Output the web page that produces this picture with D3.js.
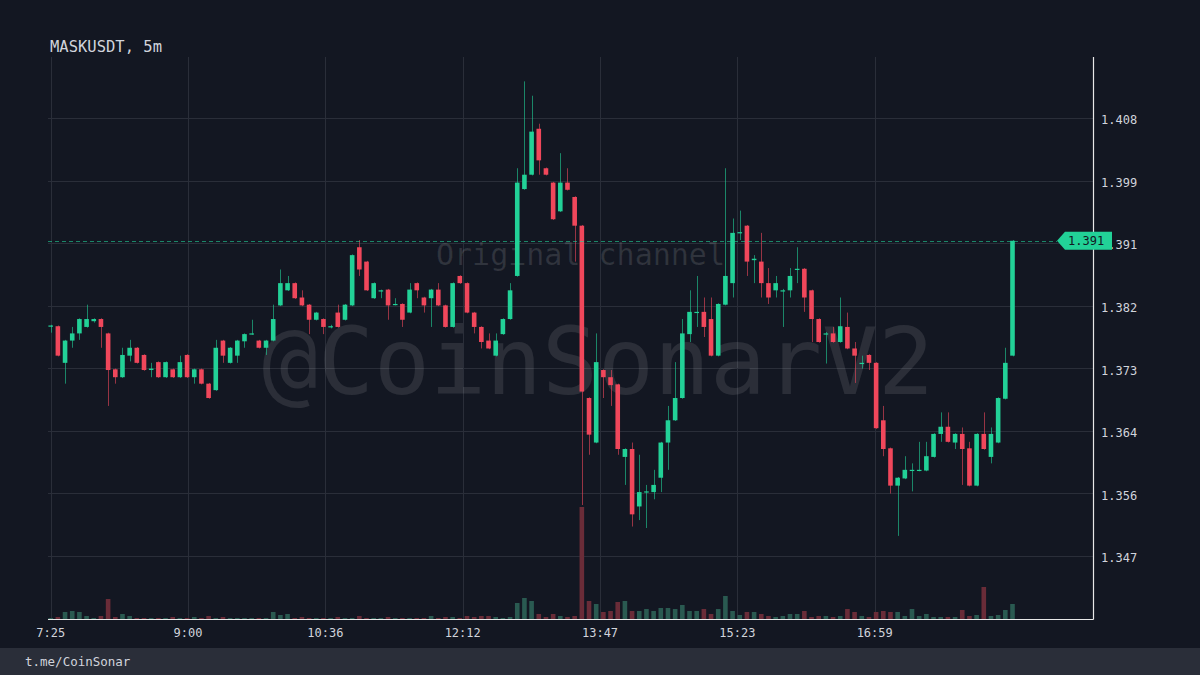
<!DOCTYPE html>
<html><head><meta charset="utf-8">
<script src="https://cdn.jsdelivr.net/npm/d3@7"></script>
<style>html,body{margin:0;padding:0;background:#131722;} svg{display:block}</style>
</head><body>
<svg id="chart" width="1200" height="675"></svg>
<script>
const chartTitle = "MASKUSDT, 5m";
const footerText = "t.me/CoinSonar";
const watermarkBig = "@CoinSonarV2";
const watermarkSmall = "Original channel";
const startTime = "2021-01-01T07:25:00";
const intervalMinutes = 5;

const opens = [1.3790,1.3790,1.3739,1.3770,1.3780,1.3789,1.3797,1.3800,1.3780,1.3730,1.3719,1.3749,1.3760,1.3750,1.3729,1.3740,1.3719,1.3730,1.3719,1.3750,1.3719,1.3730,1.3710,1.3701,1.3770,1.3739,1.3749,1.3769,1.3779,1.3770,1.3760,1.3770,1.3819,1.3840,1.3850,1.3830,1.3820,1.3799,1.3800,1.3789,1.3809,1.3799,1.3819,1.3900,1.3880,1.3829,1.3839,1.3841,1.3820,1.3821,1.3809,1.3850,1.3830,1.3829,1.3841,1.3819,1.3789,1.3860,1.3850,1.3809,1.3789,1.3770,1.3749,1.3779,1.3800,1.3860,1.3981,1.4001,1.4065,1.4010,1.3990,1.3950,1.3990,1.3970,1.3930,1.3690,1.3628,1.3729,1.3719,1.3709,1.3608,1.3619,1.3539,1.3559,1.3559,1.3579,1.3628,1.3659,1.3690,1.3779,1.3809,1.3810,1.3800,1.3749,1.3820,1.3850,1.3920,1.3930,1.3882,1.3880,1.3850,1.3840,1.3839,1.3840,1.3869,1.3870,1.3840,1.3800,1.3779,1.3780,1.3768,1.3789,1.3759,1.3738,1.3750,1.3739,1.3659,1.3620,1.3568,1.3578,1.3589,1.3589,1.3589,1.3608,1.3640,1.3650,1.3628,1.3640,1.3620,1.3568,1.3640,1.3608,1.3628,1.3689,1.3749];
const highs = [1.3792,1.3791,1.3771,1.3789,1.3801,1.3820,1.3801,1.3801,1.3781,1.3731,1.3760,1.3771,1.3761,1.3751,1.3739,1.3741,1.3741,1.3731,1.3749,1.3751,1.3731,1.3731,1.3711,1.3771,1.3771,1.3761,1.3771,1.3780,1.3799,1.3771,1.3771,1.3820,1.3869,1.3860,1.3851,1.3840,1.3821,1.3810,1.3801,1.3792,1.3820,1.3821,1.3890,1.3910,1.3881,1.3851,1.3841,1.3842,1.3829,1.3822,1.3850,1.3851,1.3831,1.3842,1.3850,1.3820,1.3851,1.3861,1.3851,1.3810,1.3790,1.3780,1.3780,1.3801,1.3850,1.4010,1.4131,1.4111,1.4072,1.4011,1.3991,1.4031,1.4010,1.3971,1.3931,1.3691,1.3780,1.3730,1.3729,1.3710,1.3620,1.3628,1.3611,1.3569,1.3590,1.3629,1.3679,1.3740,1.3800,1.3840,1.3860,1.3830,1.3830,1.3822,1.4010,1.3940,1.3951,1.3931,1.3889,1.3920,1.3871,1.3860,1.3842,1.3871,1.3900,1.3871,1.3841,1.3801,1.3782,1.3789,1.3830,1.3809,1.3768,1.3749,1.3751,1.3740,1.3679,1.3621,1.3580,1.3609,1.3599,1.3629,1.3629,1.3641,1.3670,1.3670,1.3641,1.3649,1.3629,1.3641,1.3670,1.3649,1.3691,1.3760,1.3910];
const lows = [1.3781,1.3748,1.3710,1.3760,1.3771,1.3788,1.3795,1.3760,1.3679,1.3710,1.3718,1.3741,1.3738,1.3728,1.3719,1.3718,1.3718,1.3718,1.3718,1.3718,1.3710,1.3709,1.3689,1.3700,1.3739,1.3738,1.3739,1.3760,1.3778,1.3759,1.3750,1.3769,1.3818,1.3839,1.3828,1.3818,1.3779,1.3798,1.3779,1.3787,1.3788,1.3798,1.3818,1.3860,1.3839,1.3828,1.3829,1.3799,1.3819,1.3789,1.3808,1.3829,1.3809,1.3789,1.3818,1.3788,1.3788,1.3849,1.3808,1.3780,1.3759,1.3758,1.3748,1.3778,1.3799,1.3859,1.3980,1.4000,1.4001,1.4000,1.3938,1.3949,1.3979,1.3880,1.3541,1.3611,1.3627,1.3690,1.3679,1.3611,1.3569,1.3511,1.3520,1.3509,1.3549,1.3559,1.3590,1.3658,1.3689,1.3768,1.3789,1.3775,1.3748,1.3748,1.3819,1.3830,1.3910,1.3860,1.3850,1.3830,1.3821,1.3830,1.3789,1.3830,1.3850,1.3810,1.3768,1.3767,1.3738,1.3767,1.3767,1.3758,1.3711,1.3731,1.3729,1.3647,1.3609,1.3557,1.3498,1.3577,1.3560,1.3588,1.3588,1.3607,1.3629,1.3628,1.3619,1.3569,1.3567,1.3567,1.3618,1.3599,1.3627,1.3688,1.3748];
const closes = [1.3791,1.3749,1.3770,1.3780,1.3800,1.3800,1.3800,1.3789,1.3729,1.3719,1.3750,1.3760,1.3739,1.3729,1.3731,1.3719,1.3740,1.3719,1.3740,1.3719,1.3730,1.3710,1.3690,1.3760,1.3749,1.3760,1.3770,1.3779,1.3780,1.3760,1.3770,1.3800,1.3850,1.3850,1.3829,1.3819,1.3799,1.3809,1.3789,1.3790,1.3789,1.3820,1.3889,1.3869,1.3840,1.3850,1.3840,1.3819,1.3821,1.3799,1.3841,1.3840,1.3819,1.3841,1.3819,1.3789,1.3850,1.3850,1.3809,1.3789,1.3768,1.3759,1.3770,1.3800,1.3840,1.3990,1.4001,1.4061,1.4021,1.4001,1.3939,1.3990,1.3980,1.3930,1.3699,1.3639,1.3740,1.3719,1.3708,1.3619,1.3619,1.3528,1.3559,1.3560,1.3569,1.3628,1.3659,1.3690,1.3780,1.3810,1.3810,1.3789,1.3749,1.3821,1.3860,1.3920,1.3921,1.3880,1.3884,1.3850,1.3830,1.3850,1.3840,1.3860,1.3870,1.3830,1.3800,1.3768,1.3780,1.3768,1.3790,1.3759,1.3749,1.3739,1.3739,1.3648,1.3619,1.3568,1.3579,1.3590,1.3590,1.3590,1.3609,1.3640,1.3650,1.3629,1.3640,1.3619,1.3568,1.3640,1.3619,1.3640,1.3690,1.3739,1.3909];
const volumes = [1,2,7,8,7,3,1,3,20,2,5,3,1,1,1,1,1,2,1,1,2,1,3,1,2,1,1,1,1,1,1,7,4,5,1,2,1,1,1,1,2,1,1,3,1,1,1,2,1,1,1,1,1,3,1,2,2,1,3,2,3,3,2,1,2,16,21,18,5,2,5,3,2,3,112,18,15,7,8,17,18,8,8,10,8,11,11,10,14,8,8,10,5,10,23,8,4,7,7,5,3,2,3,5,5,8,2,3,3,2,3,10,7,3,2,7,8,7,7,3,10,3,5,2,2,2,2,9,3,4,32,3,4,9,15];

const priceTicks = [1.3470,1.35571,1.36442,1.37313,1.38184,1.39055,1.39926,1.40797];
const timeTicks = ["2021-01-01T07:25:00","2021-01-01T09:00:40","2021-01-01T10:36:20","2021-01-01T12:12:00","2021-01-01T13:47:40","2021-01-01T15:23:20","2021-01-01T16:59:00"];

const W = 1200, H = 675;
const plot = {left: 48, right: 1093, top: 57, bottom: 619};
const colors = {bg:"#131722", footer:"#2a2e39", grid:"#2a2e39", text:"#d1d4dc", up:"#22d197", down:"#f0475b", upVol:"#2a5a51", downVol:"#6a2c38", border:"#e8e8e8", wm:"#ffffff"};
const mono = "'DejaVu Sans Mono', 'Liberation Mono', monospace";

const t0 = new Date(startTime);
const data = opens.map((o,i)=>({
  t: new Date(t0.getTime() + i*intervalMinutes*60000),
  o, h: highs[i], l: lows[i], c: closes[i], v: volumes[i]
}));
const lastT = data[data.length-1].t;

const x = d3.scaleTime().domain([t0, lastT]).range([50.7, 1012.5]);
const y = d3.scaleLinear().domain([priceTicks[0], priceTicks[priceTicks.length-1]]).range([556, 118.2]);
const vy = d3.scaleLinear().domain([0, d3.max(volumes)]).range([plot.bottom, plot.bottom-112]);

const svg = d3.select("#chart");
svg.append("rect").attr("width",W).attr("height",H).attr("fill",colors.bg);
svg.append("rect").attr("x",0).attr("y",648).attr("width",W).attr("height",H-648).attr("fill",colors.footer);

// grid
const tickDates = timeTicks.map(s=>new Date(s));
svg.append("g").selectAll("line").data(priceTicks).join("line")
  .attr("x1",plot.left).attr("x2",plot.right)
  .attr("y1",d=>Math.round(y(d))+0.5).attr("y2",d=>Math.round(y(d))+0.5)
  .attr("stroke",colors.grid).attr("stroke-width",1);
svg.append("g").selectAll("line").data(tickDates).join("line")
  .attr("x1",d=>Math.round(x(d))+0.5).attr("x2",d=>Math.round(x(d))+0.5)
  .attr("y1",plot.top).attr("y2",plot.bottom)
  .attr("stroke",colors.grid).attr("stroke-width",1);

// watermarks
svg.append("text").attr("x",436).attr("y",265).attr("font-family",mono).attr("font-size",30)
  .attr("fill",colors.wm).attr("fill-opacity",0.12).text(watermarkSmall);
svg.append("text").attr("x",262).attr("y",394).attr("font-family",mono).attr("font-size",93)
  .attr("fill",colors.wm).attr("fill-opacity",0.1).text(watermarkBig);

// volume
svg.append("g").selectAll("rect").data(data).join("rect")
  .attr("x",d=>x(d.t)-2.3).attr("width",4.6)
  .attr("y",d=>vy(d.v)).attr("height",d=>plot.bottom-vy(d.v))
  .attr("fill",d=>d.c>=d.o?colors.upVol:colors.downVol);

// candles
const cg = svg.append("g");
cg.selectAll("line").data(data).join("line")
  .attr("x1",d=>Math.round(x(d.t))+0.5).attr("x2",d=>Math.round(x(d.t))+0.5)
  .attr("y1",d=>y(d.h)).attr("y2",d=>y(d.l))
  .attr("stroke",d=>d.c>=d.o?colors.up:colors.down).attr("stroke-opacity",0.6).attr("stroke-width",1);
cg.selectAll("rect").data(data).join("rect")
  .attr("x",d=>x(d.t)-2.3).attr("width",4.6)
  .attr("y",d=>y(Math.max(d.o,d.c)))
  .attr("height",d=>Math.max(1.2, Math.abs(y(d.o)-y(d.c))))
  .attr("fill",d=>d.c>=d.o?colors.up:colors.down);

// borders
svg.append("line").attr("x1",plot.right+0.5).attr("x2",plot.right+0.5).attr("y1",plot.top).attr("y2",plot.bottom+0.5)
  .attr("stroke",colors.border).attr("stroke-width",1.2);
svg.append("line").attr("x1",plot.left).attr("x2",plot.right+0.5).attr("y1",plot.bottom+0.5).attr("y2",plot.bottom+0.5)
  .attr("stroke",colors.border).attr("stroke-width",1.2);

// axes labels
const fmtP = d3.format(".3f");
svg.append("g").selectAll("text").data(priceTicks).join("text")
  .attr("x",plot.right+8).attr("y",d=>y(d)+2).attr("dy","0.35em")
  .attr("font-family",mono).attr("font-size",12).attr("fill",colors.text).text(d=>fmtP(d));
const fmtT = d3.timeFormat("%-H:%M");
svg.append("g").selectAll("text").data(tickDates).join("text")
  .attr("x",d=>x(d)).attr("y",633).attr("dy","0.35em").attr("text-anchor","middle")
  .attr("font-family",mono).attr("font-size",12).attr("fill",colors.text).text(d=>fmtT(d));

// last price line & tag
const last = data[data.length-1];
const ly = y(last.c);
svg.append("line").attr("x1",plot.left).attr("x2",1057).attr("y1",Math.round(ly)+0.5).attr("y2",Math.round(ly)+0.5)
  .attr("stroke",colors.up).attr("stroke-opacity",0.6).attr("stroke-dasharray","4,3");
svg.append("path")
  .attr("d",`M1057,${ly} L1065,${ly-9} L1112,${ly-9} L1112,${ly+9} L1065,${ly+9} Z`)
  .attr("fill",colors.up);
svg.append("text").attr("x",1068).attr("y",ly).attr("dy","0.35em")
  .attr("font-family",mono).attr("font-size",12).attr("fill","#131722").text(fmtP(last.c));

// title & footer
svg.append("text").attr("x",50).attr("y",52).attr("font-family",mono).attr("font-size",15.5)
  .attr("fill",colors.text).text(chartTitle);
svg.append("text").attr("x",25).attr("y",662).attr("dy","0.35em").attr("font-family",mono).attr("font-size",12.5)
  .attr("fill",colors.text).text(footerText);
</script>
</body></html>
